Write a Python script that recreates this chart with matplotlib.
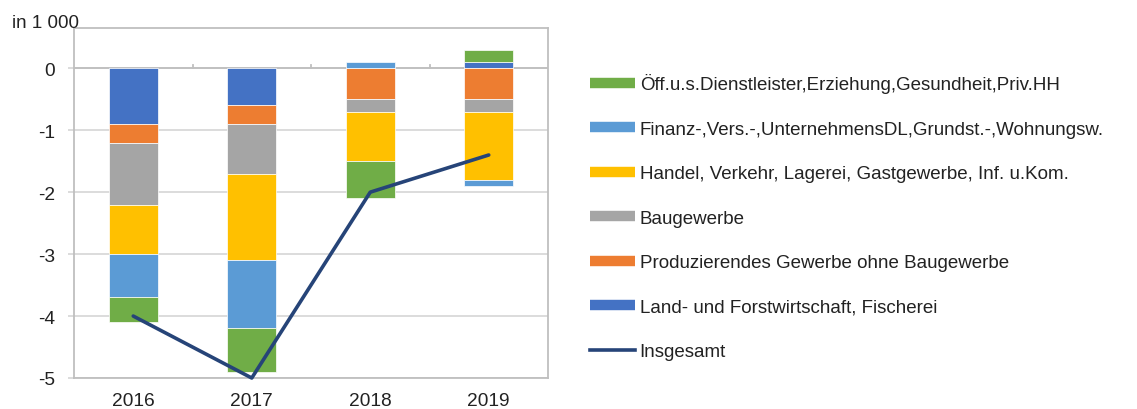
import matplotlib.pyplot as plt
from matplotlib.lines import Line2D
import numpy as np

plt.rcParams['font.family'] = ['Liberation Sans', 'DejaVu Sans']

years = ['2016', '2017', '2018', '2019']

# Veränderung in 1 000, je Wirtschaftsbereich
land = [-0.9, -0.6, 0.0, 0.1]
prod = [-0.3, -0.3, -0.5, -0.5]
bau = [-1.0, -0.8, -0.2, -0.2]
handel = [-0.8, -1.4, -0.8, -1.1]
finanz = [-0.7, -1.1, 0.1, -0.1]
oeff = [-0.4, -0.7, -0.6, 0.2]
insgesamt = [-4.0, -5.0, -2.0, -1.4]

labels = ['Land- und Forstwirtschaft, Fischerei',
          'Produzierendes Gewerbe ohne Baugewerbe',
          'Baugewerbe',
          'Handel, Verkehr, Lagerei, Gastgewerbe, Inf. u.Kom.',
          'Finanz-,Vers.-,UnternehmensDL,Grundst.-,Wohnungsw.',
          'Öff.u.s.Dienstleister,Erziehung,Gesundheit,Priv.HH']
colors = ['#4472C4', '#ED7D31', '#A5A5A5', '#FFC000', '#5B9BD5', '#70AD47']
series = [land, prod, bau, handel, finanz, oeff]

fig = plt.figure(figsize=(11.37, 4.10), dpi=100)
ax = fig.add_axes([74 / 1137, 1 - 379 / 410, 474 / 1137, 350 / 410])

x = np.arange(len(years))
pos = np.zeros(len(years))
neg = np.zeros(len(years))
for vals, col in zip(series, colors):
    v = np.array(vals)
    bottom = np.where(v >= 0, pos, neg)
    ax.bar(x, v, bottom=bottom, width=0.41, color=col,
           edgecolor='white', linewidth=0.5, zorder=3)
    pos = pos + np.where(v > 0, v, 0)
    neg = neg + np.where(v < 0, v, 0)

ax.plot(x, insgesamt, color='#264478', linewidth=2.6, zorder=4,
        clip_on=False, solid_capstyle='round')

ax.set_xlim(-0.5, 3.5)
ax.set_ylim(-5, 0.65)
ax.set_yticks([0, -1, -2, -3, -4, -5])
ax.set_yticklabels(['0', '-1', '-2', '-3', '-4', '-5'])
ax.set_xticks(x)
ax.set_xticklabels(years)
ax.yaxis.grid(True, color='#D9D9D9', linewidth=1.3, zorder=0)
ax.set_axisbelow(True)
ax.tick_params(axis='y', length=4.5, width=1.3, color='#D9D9D9',
               labelsize=13.8, pad=9, labelcolor='#222222')
ax.tick_params(axis='x', length=0, labelsize=13.8, pad=10,
               labelcolor='#222222')
for s in ax.spines.values():
    s.set_color('#BFBFBF')
    s.set_linewidth(1.3)

# Kategorienachse bei 0 mit Teilstrichen
ax.axhline(0, color='#BFBFBF', linewidth=1.3, zorder=1)
for b in [0.5, 1.5, 2.5]:
    ax.plot([b, b], [0, 0.06], color='#BFBFBF', linewidth=1.3, zorder=1)

fig.text(12 / 1137, 1 - 24 / 410, 'in 1 000', fontsize=13.5,
         va='center', ha='left', color='#222222')

handles = [Line2D([], [], color=c, linewidth=7.5, solid_capstyle='butt')
           for c in colors[::-1]]
handles.append(Line2D([], [], color='#264478', linewidth=2.6))
leg = fig.legend(handles, labels[::-1] + ['Insgesamt'],
                 loc='center left', bbox_to_anchor=(590 / 1137, 1 - 218 / 410),
                 frameon=False, fontsize=13.5, handlelength=2.4,
                 handletextpad=0.25, labelspacing=1.46,
                 borderpad=0, borderaxespad=0)
for t in leg.get_texts():
    t.set_color('#222222')

fig.savefig('out.png', dpi=100)
